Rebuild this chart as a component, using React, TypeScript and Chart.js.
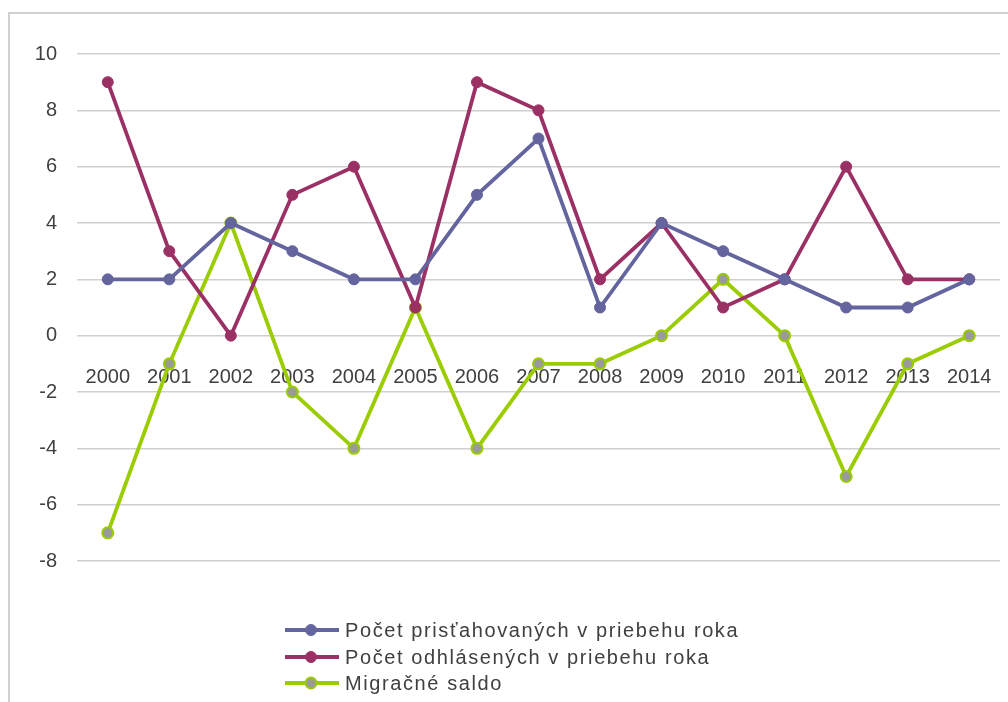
import React, { useEffect, useRef } from "react";
import { Chart, registerables } from "chart.js";

Chart.register(...registerables);

const years = ["2000", "2001", "2002", "2003", "2004", "2005", "2006", "2007", "2008", "2009", "2010", "2011", "2012", "2013", "2014"];
const immigrants = [2, 2, 4, 3, 2, 2, 5, 7, 1, 4, 3, 2, 1, 1, 2];
const emigrants = [9, 3, 0, 5, 6, 1, 9, 8, 2, 4, 1, 2, 6, 2, 2];
const netMigration = [-7, -1, 4, -2, -4, 1, -4, -1, -1, 0, 2, 0, -5, -1, 0];

const seriesLabels = [
  "Počet prisťahovaných v priebehu roka",
  "Počet odhlásených v priebehu roka",
  "Migračné saldo",
];

const BLUE = "#64649e";
const MAROON = "#9b3064";
const GREEN = "#9acc00";
const GRAY_FILL = "#9a9a9a";
const FONT = "'Liberation Sans', Arial, sans-serif";
const TEXT = "#404040";

export default function App() {
  const ref = useRef<HTMLCanvasElement | null>(null);

  useEffect(() => {
    document.body.style.overflow = "hidden";
    const ctx = ref.current!;
    const common = {
      borderWidth: 3.8,
      pointRadius: 5.5,
      tension: 0,
    };
    const chart = new Chart(ctx, {
      type: "line",
      data: {
        labels: years,
        datasets: [
          {
            ...common,
            label: seriesLabels[0],
            data: immigrants,
            borderColor: BLUE,
            backgroundColor: BLUE,
            pointBackgroundColor: BLUE,
            pointBorderColor: BLUE,
            pointBorderWidth: 1,
          },
          {
            ...common,
            label: seriesLabels[1],
            data: emigrants,
            borderColor: MAROON,
            backgroundColor: MAROON,
            pointBackgroundColor: MAROON,
            pointBorderColor: MAROON,
            pointBorderWidth: 1,
          },
          {
            ...common,
            label: seriesLabels[2],
            data: netMigration,
            borderColor: GREEN,
            backgroundColor: GREEN,
            pointBackgroundColor: GRAY_FILL,
            pointBorderColor: GREEN,
            pointBorderWidth: 2,
          },
        ],
      },
      options: {
        animation: false,
        responsive: false,
        maintainAspectRatio: false,
        layout: { padding: { top: 54, right: 8, bottom: 141, left: 0 } },
        plugins: {
          legend: { display: false },
          tooltip: { enabled: false },
          title: { display: false },
        },
        scales: {
          x: {
            type: "category",
            offset: true,
            position: { y: 0 } as any,
            grid: { display: false },
            border: { display: false },
            ticks: {
              font: { family: FONT, size: 20 },
              color: TEXT,
              padding: 22,
              maxRotation: 0,
              autoSkip: false,
            },
            afterFit: (s: any) => {
              s.paddingLeft = 0;
              s.paddingRight = 0;
            },
          },
          y: {
            min: -8,
            max: 10,
            grid: { color: "#cfcfcf", lineWidth: 1.5, drawTicks: false },
            border: { display: false },
            ticks: {
              stepSize: 2,
              font: { family: FONT, size: 20 },
              color: TEXT,
              padding: 20,
            },
            afterFit: (s: any) => {
              s.width = 77;
            },
          },
        },
      },
    });
    return () => chart.destroy();
  }, []);

  const legendColors = [
    { line: BLUE, fill: BLUE },
    { line: MAROON, fill: MAROON },
    { line: GREEN, fill: GRAY_FILL },
  ];
  const legendTops = [630, 657, 683];

  return (
    <div>
      <div
        style={{
          position: "fixed",
          left: 8,
          top: 12,
          width: 1100,
          height: 800,
          borderLeft: "2px solid #d0d0d0",
          borderTop: "2px solid #d0d0d0",
          boxSizing: "border-box",
        }}
      />
      <canvas
        ref={ref}
        width={1008}
        height={702}
        style={{ position: "fixed", left: 0, top: 0, width: 1008, height: 702 }}
      />
      {seriesLabels.map((lbl, i) => (
        <div
          key={lbl}
          style={{
            position: "fixed",
            left: 285,
            top: legendTops[i] - 13,
            height: 26,
            display: "flex",
            alignItems: "center",
            fontFamily: FONT,
            fontSize: 20,
            color: TEXT,
            whiteSpace: "nowrap",
            letterSpacing: "1.6px",
          }}
        >
          <svg width={54} height={16} style={{ marginRight: 6 }}>
            <line x1={0} y1={8} x2={54} y2={8} stroke={legendColors[i].line} strokeWidth={3.8} />
            <circle
              cx={26}
              cy={8}
              r={5.5}
              fill={legendColors[i].fill}
              stroke={legendColors[i].line}
              strokeWidth={i === 2 ? 2 : 1}
            />
          </svg>
          <span>{lbl}</span>
        </div>
      ))}
    </div>
  );
}
